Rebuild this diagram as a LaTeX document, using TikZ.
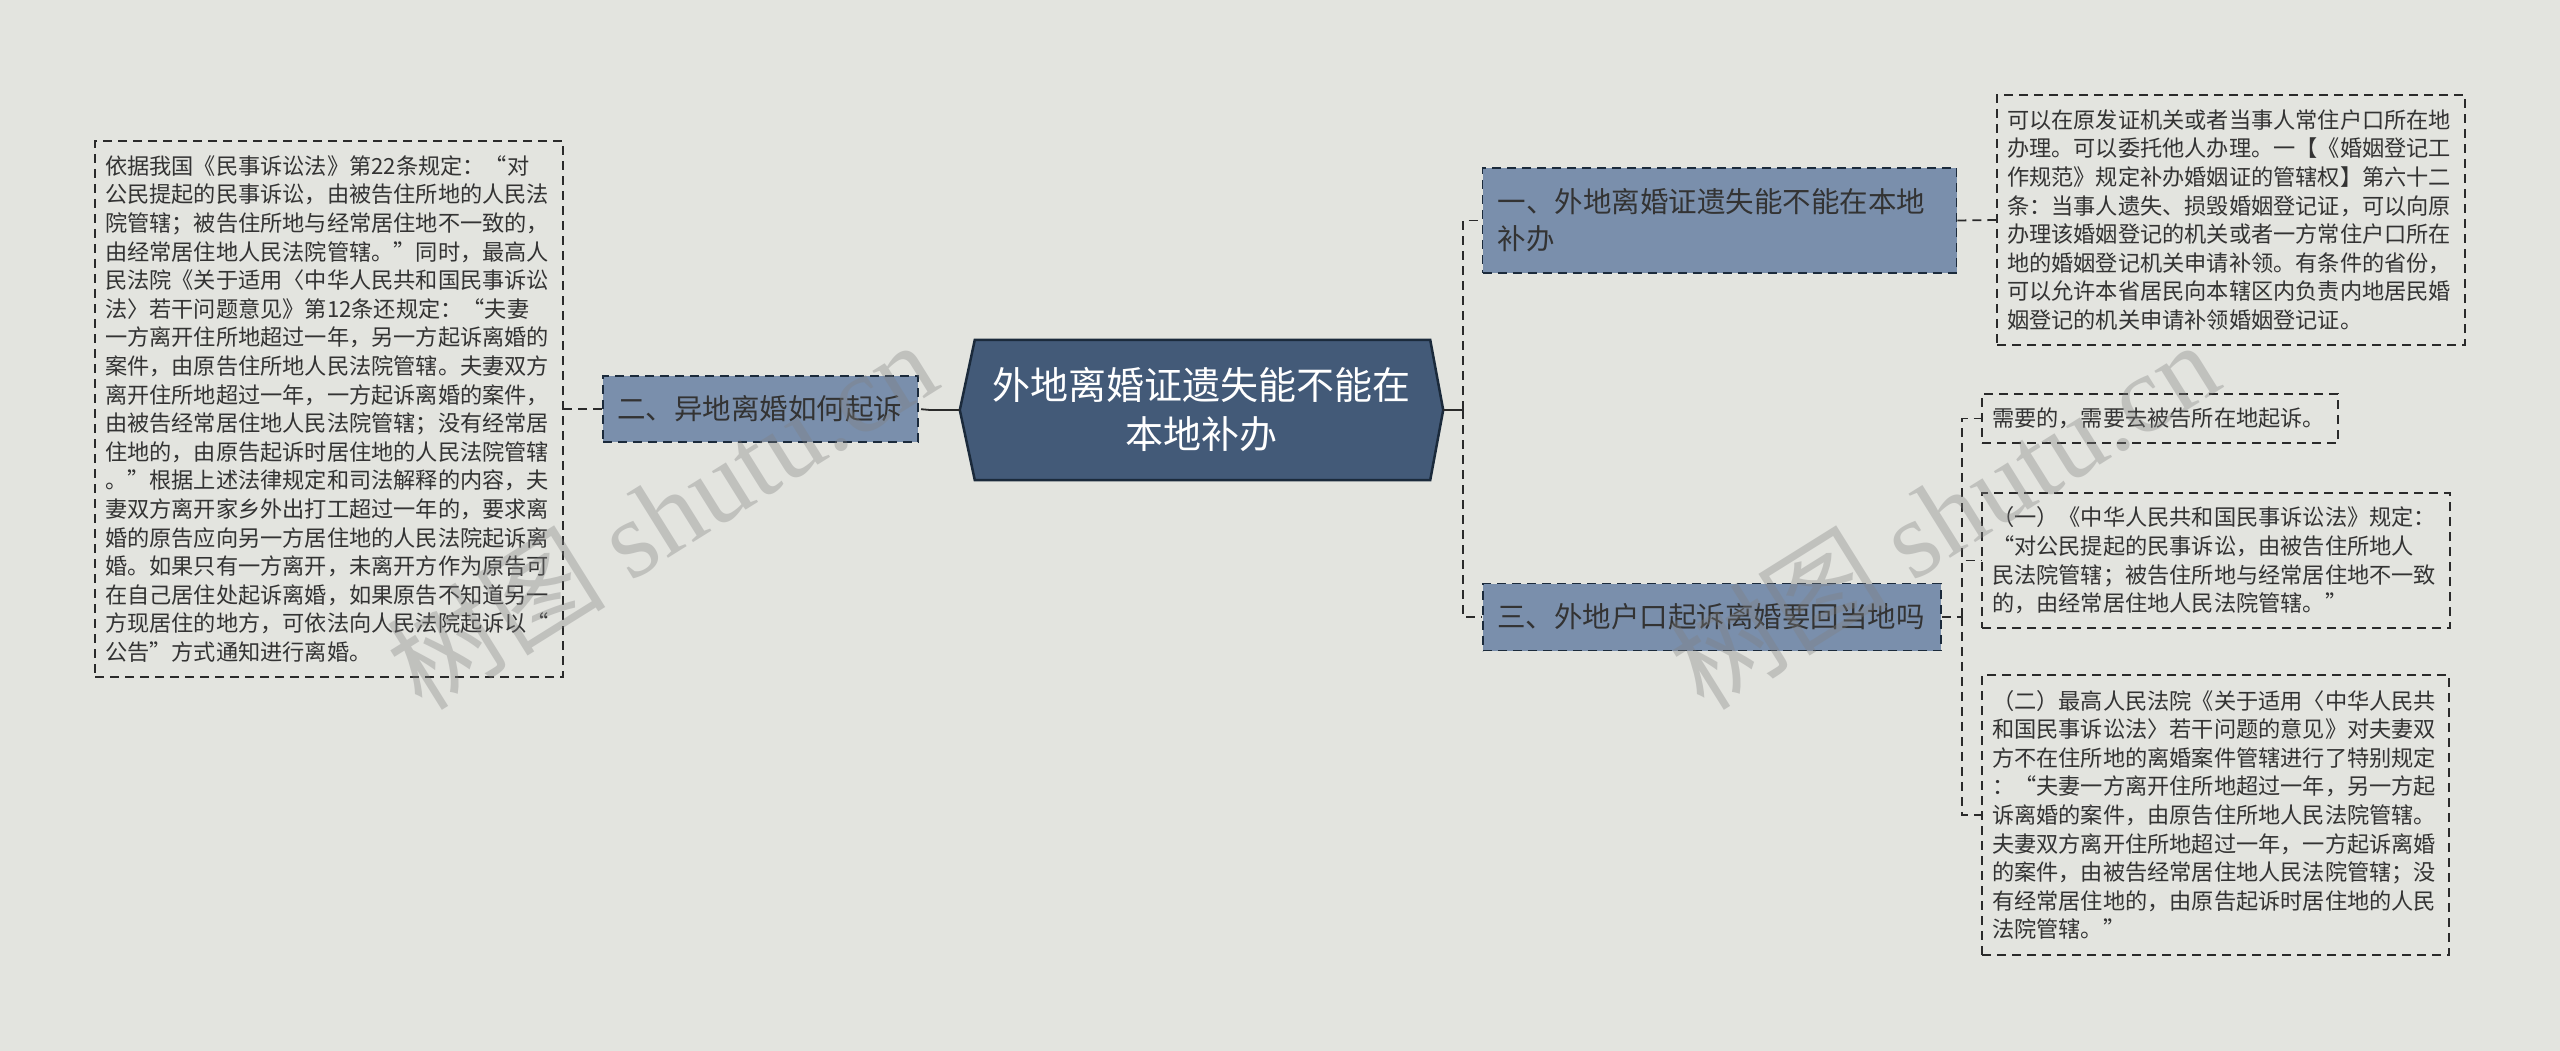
\documentclass[tikz,border=0pt]{standalone}
\usepackage{fontspec}
\setmainfont{Noto Sans CJK SC}
\newfontfamily\wmlatin{Liberation Serif}
\usetikzlibrary{backgrounds}
\definecolor{bg}{HTML}{E3E4DF}
\definecolor{cfill}{HTML}{435A78}
\definecolor{cline}{HTML}{1B2A3B}
\definecolor{bfill}{HTML}{7A8FAC}
\definecolor{txt}{HTML}{333333}
\definecolor{lnk}{HTML}{2A2A2A}
\begin{document}
\begin{tikzpicture}[x=1pt,y=-1pt,
  dashbox/.style={draw=lnk, line width=1.8pt, dash pattern=on 9pt off 6pt, inner xsep=10pt, inner ysep=0pt, align=left, text=txt, font=\fontsize{22.2pt}{28.6pt}\selectfont},
  branchbox/.style={draw=cline, fill=bfill, line width=1.8pt, dash pattern=on 9pt off 6pt, inner ysep=0pt, align=left, text=txt, font=\fontsize{28.5pt}{37pt}\selectfont},
  link/.style={draw=lnk, line width=1.8pt, dash pattern=on 9pt off 6pt},
  solidlink/.style={draw=lnk, line width=2.2pt},
  watermark/.style={text=gray, opacity=0.35, font=\fontsize{110pt}{110pt}\selectfont, rotate=32}
]
\useasboundingbox (0,0) rectangle (2560,1051);

% central node
\node[inner sep=0pt, minimum width=483pt, minimum height=140pt, align=center, text=white,
      font=\fontsize{38pt}{49pt}\selectfont] (c) at (1201.5,410) {外地离婚证遗失能不能在\\本地补办};

% branches
\node[branchbox, text width=444pt, inner xsep=15pt, minimum height=105pt] (b1) at (1719.5,220.5)
  {一、外地离婚证遗失能不能在本地\\补办};
\node[branchbox, text width=287pt, inner xsep=14pt, minimum height=66pt] (b2) at (760.5,409)
  {二、异地离婚如何起诉};
\node[branchbox, text width=430pt, inner xsep=14pt, minimum height=67pt] (b3) at (1712,617)
  {三、外地户口起诉离婚要回当地吗};

% left detail
\node[dashbox, text width=448pt, minimum height=536pt] (L) at (329,409)
{依据我国《民事诉讼法》第22条规定：“对\\
公民提起的民事诉讼，由被告住所地的人民法\\
院管辖；被告住所地与经常居住地不一致的，\\
由经常居住地人民法院管辖。”同时，最高人\\
民法院《关于适用〈中华人民共和国民事诉讼\\
法〉若干问题意见》第12条还规定：“夫妻\\
一方离开住所地超过一年，另一方起诉离婚的\\
案件，由原告住所地人民法院管辖。夫妻双方\\
离开住所地超过一年，一方起诉离婚的案件，\\
由被告经常居住地人民法院管辖；没有经常居\\
住地的，由原告起诉时居住地的人民法院管辖\\
。”根据上述法律规定和司法解释的内容，夫\\
妻双方离开家乡外出打工超过一年的，要求离\\
婚的原告应向另一方居住地的人民法院起诉离\\
婚。如果只有一方离开，未离开方作为原告可\\
在自己居住处起诉离婚，如果原告不知道另一\\
方现居住的地方，可依法向人民法院起诉以“\\
公告”方式通知进行离婚。};

% right details
\node[dashbox, text width=448pt, minimum height=250pt] (r1) at (2231,220)
{可以在原发证机关或者当事人常住户口所在地\\
办理。可以委托他人办理。一【《婚姻登记工\\
作规范》规定补办婚姻证的管辖权】第六十二\\
条：当事人遗失、损毁婚姻登记证，可以向原\\
办理该婚姻登记的机关或者一方常住户口所在\\
地的婚姻登记机关申请补领。有条件的省份，\\
可以允许本省居民向本辖区内负责内地居民婚\\
姻登记的机关申请补领婚姻登记证。};

\node[dashbox, text width=336pt, minimum height=49pt] (r2) at (2160,418.5)
{需要的，需要去被告所在地起诉。};

\node[dashbox, text width=448pt, minimum height=135pt] (r3) at (2216,560.5)
{（一）《中华人民共和国民事诉讼法》规定：\\
“对公民提起的民事诉讼，由被告住所地人\\
民法院管辖；被告住所地与经常居住地不一致\\
的，由经常居住地人民法院管辖。”};

\node[dashbox, text width=447pt, minimum height=280pt] (r4) at (2215.5,815)
{（二）最高人民法院《关于适用〈中华人民共\\
和国民事诉讼法〉若干问题的意见》对夫妻双\\
方不在住所地的离婚案件管辖进行了特别规定\\
：“夫妻一方离开住所地超过一年，另一方起\\
诉离婚的案件，由原告住所地人民法院管辖。\\
夫妻双方离开住所地超过一年，一方起诉离婚\\
的案件，由被告经常居住地人民法院管辖；没\\
有经常居住地的，由原告起诉时居住地的人民\\
法院管辖。”};

% junctions
\coordinate (jr) at (1463,410);
\coordinate (jl) at (930,410);
\coordinate (j3) at (1962,617);

% connectors
\draw[solidlink] (c.east) -- (jr);
\draw[link] (jr) |- (b1.west);
\draw[link] (jr) |- (b3.west);
\draw[solidlink] (c.west) -- (jl);
\draw[link] (jl) -- (b2.east);
\draw[link] (b2.west) -- (L.east);
\draw[link] (b1.east) -- (r1.west);
\draw[link] (b3.east) -- (j3);
\draw[link] (j3) |- (r2.west);
\draw[link] (j3) |- (r3.west);
\draw[link] (j3) |- (r4.west);

\begin{scope}[on background layer]
  \fill[bg] (0,0) rectangle (2560,1051);
  \filldraw[fill=cfill, draw=cline, line width=2.5pt, line join=miter]
    (c.west) -- ([xshift=15pt]c.north west) -- ([xshift=-13pt]c.north east) -- (c.east)
    -- ([xshift=-13pt]c.south east) -- ([xshift=15pt]c.south west) -- cycle;
\end{scope}

% watermarks
\node[watermark] (wm1) at (661,514) {树图 {\wmlatin shutu.cn}};
\node[watermark] (wm2) at (1943,514) {树图 {\wmlatin shutu.cn}};
\end{tikzpicture}
\end{document}
